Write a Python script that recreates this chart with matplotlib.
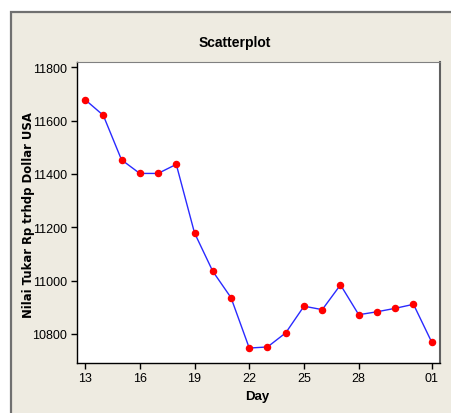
import matplotlib
matplotlib.use("Agg")
import matplotlib.pyplot as plt
from matplotlib.patches import Rectangle

days = ["13", "14", "15", "16", "17", "18", "19", "20", "21", "22",
        "23", "24", "25", "26", "27", "28", "29", "30", "31", "01"]
values = [11679, 11620, 11453, 11402, 11402, 11436, 11179, 11035, 10936, 10747,
          10751, 10804, 10904, 10891, 10984, 10872, 10883, 10896, 10911, 10769]
xtick_labels = ["13", "16", "19", "22", "25", "28", "01"]
ytick_values = [10800, 11000, 11200, 11400, 11600, 11800]

W, H = 452, 414
fig = plt.figure(figsize=(W / 100, H / 100), dpi=100)
fig.patch.set_facecolor("white")

# beige outer frame
frame = Rectangle((11 / W, -0.01), (W - 11) / W + 0.01, (H - 13) / H + 0.01,
                  transform=fig.transFigure, facecolor="#EEEBE1",
                  edgecolor="#707070", linewidth=1.6, zorder=-10)
fig.patches.append(frame)

ax = fig.add_axes([77 / W, 1 - 363.7 / H, (440.3 - 77) / W, (363.7 - 63) / H])
ax.set_zorder(5)
ax.set_facecolor("white")
xs = list(range(len(days)))
ax.plot(xs, values, color="#2a2aff", linewidth=1.0, zorder=2)
ax.plot(xs, values, linestyle="none", marker="o", markersize=4.4,
        color="#ff0000", markeredgecolor="#ff0000", zorder=3)

tick_pos = [len(days) - 1 if l == "01" else days.index(l) for l in xtick_labels]
ax.set_xticks(tick_pos)
ax.set_xticklabels(xtick_labels)
ax.set_yticks(ytick_values)
ax.set_xlim(-0.44, 19.47)
ax.set_ylim(10692, 11820)

fam = ["Liberation Sans Narrow", "Liberation Sans", "DejaVu Sans"]
for lab in ax.get_xticklabels() + ax.get_yticklabels():
    lab.set_family(fam)
    lab.set_fontsize(9)
ax.tick_params(direction="out", length=4, width=1, color="black", pad=3)

for s in ["left", "bottom"]:
    ax.spines[s].set_color("black")
    ax.spines[s].set_linewidth(1.0)
ax.spines["top"].set_color("#808080")
ax.spines["right"].set_color("#606060")
ax.spines["right"].set_linewidth(1.5)

fig.text(235 / W, 1 - 43 / H, "Scatterplot", ha="center", va="center",
         fontsize=10, fontweight="bold", family=fam)
fig.text(257 / W, 1 - 397 / H, "Day", ha="center", va="center",
         fontsize=9.5, fontweight="bold", family=fam)
fig.text(29 / W, 1 - 215 / H, "Nilai Tukar Rp trhdp Dollar USA", ha="center", va="center",
         rotation=90, fontsize=8.4, fontweight="bold", family=["DejaVu Sans"])

fig.savefig("out.png", dpi=100)
